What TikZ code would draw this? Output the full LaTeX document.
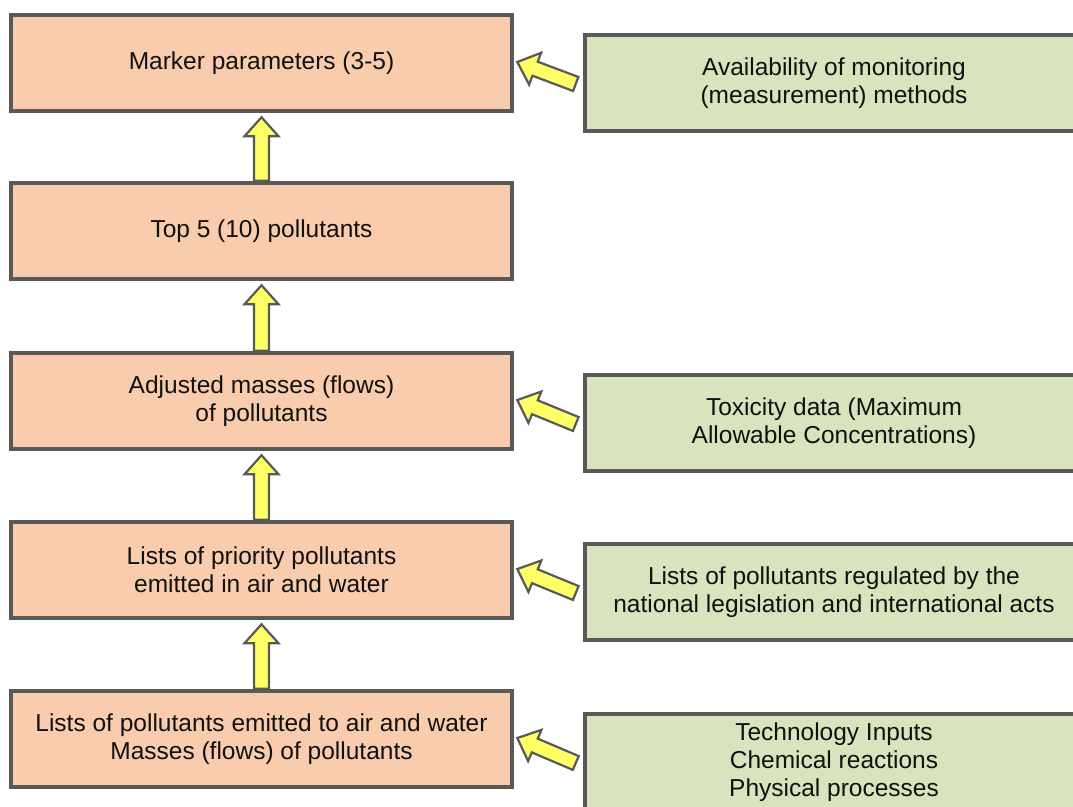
\documentclass[tikz,border=0pt]{standalone}
\usepackage{fontspec}
\setmainfont{Liberation Sans}
\usetikzlibrary{calc}
\definecolor{peach}{HTML}{F8CCAD}
\definecolor{sage}{HTML}{D7E4BD}
\definecolor{edge}{HTML}{595959}
\definecolor{arrowyel}{HTML}{FFFF66}
\definecolor{txt}{HTML}{111111}
\tikzset{
  lbox/.style={draw=edge, line width=4.5pt, fill=peach, minimum width=501pt, minimum height=96pt, align=center, text=txt, font=\fontsize{24.5}{28}\selectfont, inner sep=0pt},
  rbox/.style={draw=edge, line width=4.5pt, fill=sage, minimum width=498pt, minimum height=96pt, align=center, text=txt, font=\fontsize{24.5}{28}\selectfont, inner sep=0pt},
  blockarrowstyle/.style={draw=edge, line width=2.2pt, fill=arrowyel, line join=miter}
}
\newcommand\blockarrow[2]{%
  \path let \p1=(#1), \p2=(#2), \n1={atan2(\y2-\y1,\x2-\x1)}, \n2={veclen(\x2-\x1,\y2-\y1)} in
    \pgfextra{\xdef\baang{\n1}\xdef\balenraw{\n2}};
  \pgfmathsetmacro\balen{\balenraw}%
  \pgfmathsetmacro\bahead{\balen-19}%
  \draw[blockarrowstyle, shift={(#1)}, rotate=\baang]
    (0pt,-7.5pt) -- (\bahead pt,-7.5pt) -- (\bahead pt,-17pt) -- (\balen pt,0pt)
    -- (\bahead pt,17pt) -- (\bahead pt,7.5pt) -- (0pt,7.5pt) -- cycle;
}
\begin{document}
\begin{tikzpicture}[x=1pt,y=-1pt]
\useasboundingbox (0,0) rectangle (1073,806);
\clip (0,0) rectangle (1073,806);
\fill[white] (0,0) rectangle (1073,806);
% left column
\node[lbox] (b1) at (261.5,63) {Marker parameters (3-5)};
\node[lbox] (b2) at (261.5,231) {Top 5 (10) pollutants};
\node[lbox] (b3) at (261.5,401) {Adjusted masses (flows)\\of pollutants};
\node[lbox] (b4) at (261.5,570) {Lists of priority pollutants\\emitted in air and water};
\node[lbox] (b5) at (261.5,739) {Lists of pollutants emitted to air and water\\Masses (flows) of pollutants};
% right column
\node[rbox] (r1) at (834,83) {Availability of monitoring\\(measurement) methods};
\node[rbox] (r3) at (834,423) {Toxicity data (Maximum\\Allowable Concentrations)};
\node[rbox] (r4) at (834,592) {Lists of pollutants regulated by the\\national legislation and international acts};
\node[rbox] (r5) at (834,762) {Technology Inputs\\Chemical reactions\\Physical processes};
% arrow end points
\foreach \lo/\up in {b2/b1,b3/b2,b4/b3,b5/b4}{
  \coordinate (\lo-t) at (\lo.north);
  \coordinate (\lo-h) at ($(\up.south)+(0,4)$);
}
\foreach \r/\l in {r1/b1,r3/b3,r4/b4,r5/b5}{
  \coordinate (\r-t) at ($(\r.west)+(-7,1)$);
  \coordinate (\r-h) at ($(\l.east)+(3,-1)$);
}
\blockarrow{b2-t}{b2-h}
\blockarrow{b3-t}{b3-h}
\blockarrow{b4-t}{b4-h}
\blockarrow{b5-t}{b5-h}
\blockarrow{r1-t}{r1-h}
\blockarrow{r3-t}{r3-h}
\blockarrow{r4-t}{r4-h}
\blockarrow{r5-t}{r5-h}
\end{tikzpicture}
\end{document}
